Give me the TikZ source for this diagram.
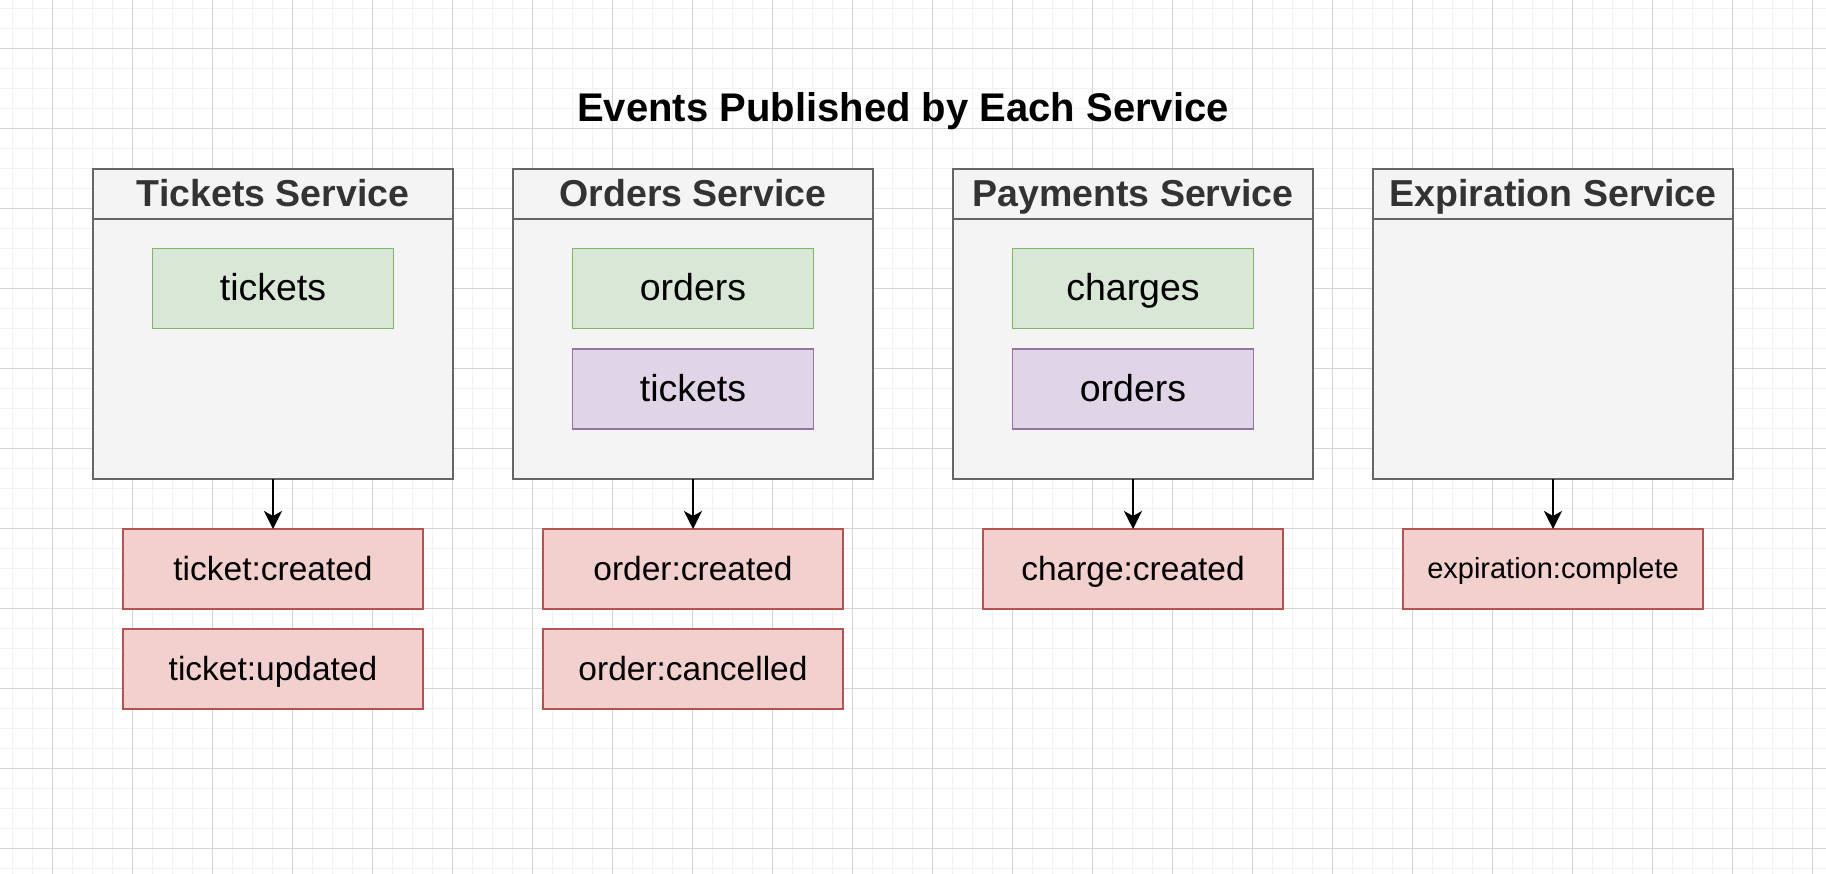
\documentclass[tikz,border=0pt]{standalone}
\usepackage{fontspec}
\setmainfont{Liberation Sans}
\usetikzlibrary{arrows.meta}
\definecolor{gridminor}{HTML}{F2F2F2}
\definecolor{gridmajor}{HTML}{D4D4D4}
\definecolor{svcfill}{HTML}{F4F4F4}
\definecolor{svcdraw}{HTML}{666666}
\definecolor{svctext}{HTML}{333333}
\definecolor{greenfill}{HTML}{D9E7D6}
\definecolor{greendraw}{HTML}{82B366}
\definecolor{purplefill}{HTML}{E0D5E6}
\definecolor{purpledraw}{HTML}{9673A6}
\definecolor{redfill}{HTML}{F1D0CD}
\definecolor{reddraw}{HTML}{B35450}
\begin{document}
\begin{tikzpicture}[x=1pt,y=-1pt,
  box/.style={rectangle, inner sep=0pt, outer sep=0pt, line width=1.8pt},
  svc/.style={box, draw=svcdraw, fill=svcfill, minimum width=360pt, minimum height=310pt},
  hdr/.style={inner sep=0pt, outer sep=0pt, text=svctext, font=\fontsize{37.5}{45}\selectfont\bfseries, text height=25pt, text depth=0pt},
  topic/.style={box, draw=greendraw, fill=greenfill, minimum width=241pt, minimum height=80pt, font=\fontsize{37.5}{45}\selectfont, text height=25pt, text depth=0pt},
  subtopic/.style={box, draw=purpledraw, fill=purplefill, minimum width=241pt, minimum height=80pt, font=\fontsize{37.5}{45}\selectfont, text height=25pt, text depth=0pt},
  evt/.style={box, draw=reddraw, fill=redfill, minimum width=300pt, minimum height=80pt, font=\fontsize{33.5}{40}\selectfont, text height=22.3pt, text depth=0pt},
  evtsmall/.style={evt, font=\fontsize{29}{35}\selectfont, text height=19.4pt},
  hline/.style={draw=svcdraw, line width=1.8pt},
  arr/.style={draw=black, line width=2pt, -{Stealth[length=18pt, width=18pt, inset=5pt]}},
  ttl/.style={inner sep=0pt, font=\fontsize{40}{48}\selectfont\bfseries, anchor=base}
]
\fill[white] (0,0) rectangle (1826,874);
\useasboundingbox (0,0) rectangle (1826,874);
% grid
\foreach \i in {0,...,91} \draw[gridminor, line width=1.5pt] (12.3+20*\i,0) -- (12.3+20*\i,874);
\foreach \i in {0,...,43} \draw[gridminor, line width=1.5pt] (0,8.3+20*\i) -- (1826,8.3+20*\i);
\foreach \i in {0,...,22} \draw[gridmajor, line width=1pt] (52.3+80*\i,0) -- (52.3+80*\i,874);
\foreach \i in {0,...,10} \draw[gridmajor, line width=1pt] (0,48.3+80*\i) -- (1826,48.3+80*\i);

% title
\node[ttl] (title) at (903,122) {Events Published by Each Service};

% services
\node[svc] (ts) at (273,324) {};
\node[svc] (os) at (693,324) {};
\node[svc] (ps) at (1133,324) {};
\node[svc] (es) at (1553,324) {};
\foreach \n in {ts,os,ps,es}
  \draw[hline] ([yshift=-50pt]\n.north west) -- ([yshift=-50pt]\n.north east);

\node[hdr] (tsh) at (273,194) {Tickets Service};
\node[hdr] (osh) at (693,194) {Orders Service};
\node[hdr] (psh) at (1133,194) {Payments Service};
\node[hdr] (esh) at (1553,194) {Expiration Service};

% inner topics
\node[topic] (tsa) at (273,288.5) {tickets};
\node[topic] (osa) at (693,288.5) {orders};
\node[subtopic] (osb) at (693,389) {tickets};
\node[topic] (psa) at (1133,288.5) {charges};
\node[subtopic] (psb) at (1133,389) {orders};

% events
\node[evt] (tc) at (273,569) {ticket:created};
\node[evt] (tu) at (273,669) {ticket:updated};
\node[evt] (oc) at (693,569) {order:created};
\node[evt] (ox) at (693,669) {order:cancelled};
\node[evt] (cc) at (1133,569) {charge:created};
\node[evtsmall] (ec) at (1553,569) {expiration:complete};

% arrows
\draw[arr] (ts.south) -- (tc.north);
\draw[arr] (os.south) -- (oc.north);
\draw[arr] (ps.south) -- (cc.north);
\draw[arr] (es.south) -- (ec.north);
\end{tikzpicture}
\end{document}
